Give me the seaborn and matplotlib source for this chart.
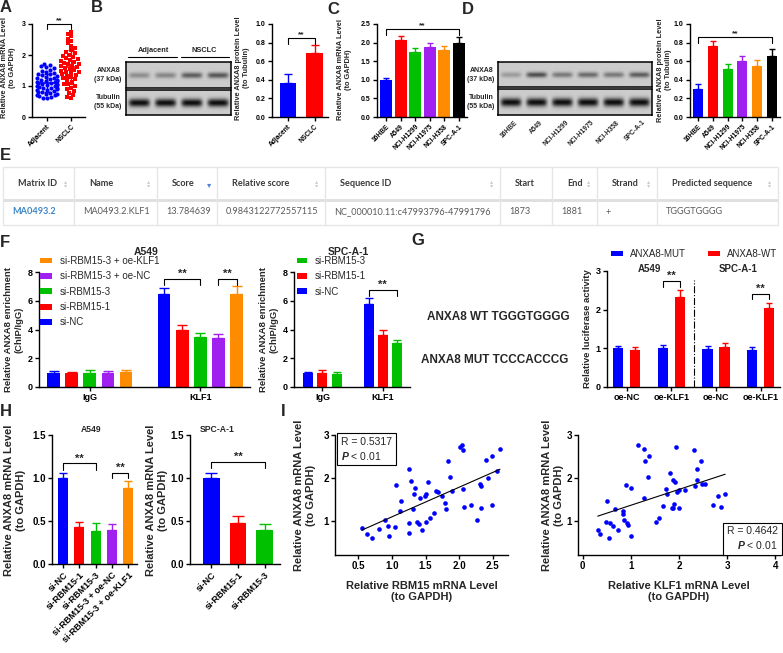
import numpy as np
import pandas as pd
import matplotlib
matplotlib.use("Agg")
import matplotlib.pyplot as plt
import seaborn as sns

BLUE, RED, GREEN, PURPLE, ORANGE, BLACK = "#0000ff", "#ff0000", "#00c000", "#a020f0", "#ff8c00", "#000000"

# ---- A: ANXA8 mRNA in tissues
a_groups = ["Adjacent", "NSCLC"]
adj_mrna = [0.60, 0.62, 0.65, 0.67, 0.70, 0.72, 0.73, 0.75, 0.78, 0.80, 0.82, 0.85, 0.86, 0.88,
            0.90, 0.92, 0.94, 0.95, 0.97, 0.99, 1.00, 1.02, 1.04, 1.05, 1.07, 1.09, 1.10, 1.12,
            1.14, 1.15, 1.17, 1.19, 1.20, 1.22, 1.25, 1.27, 1.30, 1.32, 1.35, 1.38, 1.40, 1.43,
            1.46, 1.50, 1.53, 1.57, 1.60, 1.63, 1.68, 1.72]
nsclc_mrna = [0.60, 0.65, 0.72, 0.78, 0.85, 0.90, 0.95, 1.00, 1.05, 1.08, 1.12, 1.18, 1.22, 1.25,
              1.28, 1.32, 1.35, 1.38, 1.42, 1.45, 1.48, 1.52, 1.55, 1.58, 1.60, 1.63, 1.66, 1.70,
              1.72, 1.75, 1.78, 1.80, 1.83, 1.86, 1.90, 1.93, 1.97, 2.00, 2.05, 2.10, 2.15, 2.22,
              2.30, 2.38, 2.45, 2.52, 2.60, 2.68, 2.75, 1.45]

# ---- B: protein in tissues
b_vals = [0.37, 0.69]
b_err = [0.09, 0.08]
b_band_anxa8 = [0.45, 0.5, 0.8, 0.85]
b_band_tub = [1.0, 1.0, 1.0, 1.0]

# ---- C / D: cell lines
cells = ["16HBE", "A549", "NCI-H1299", "NCI-H1975", "NCI-H358", "SPC-A-1"]
cell_colors = [BLUE, RED, GREEN, PURPLE, ORANGE, BLACK]
c_vals = [1.0, 2.06, 1.75, 1.87, 1.79, 2.0]
c_err = [0.06, 0.12, 0.11, 0.12, 0.11, 0.15]
d_vals = [0.30, 0.76, 0.52, 0.60, 0.55, 0.66]
d_err = [0.06, 0.06, 0.05, 0.06, 0.06, 0.07]
d_band_anxa8 = [0.35, 0.9, 0.6, 0.7, 0.6, 0.8]
d_band_tub = [1.0] * 6

# ---- E: JASPAR table
table_cols = ["Matrix ID", "Name", "Score", "Relative score", "Sequence ID",
              "Start", "End", "Strand", "Predicted sequence"]
table_row = ["MA0493.2", "MA0493.2.KLF1", "13.784639", "0.9843122772557115",
             "NC_000010.11:c47993796-47991796", "1873", "1881", "+", "TGGGTGGGG"]
table_sort = ["both", "both", "down", "both", "both", None, "both", "both", "both"]

# ---- F: ChIP
f_targets = ["IgG", "KLF1"]
f_a549_conds = ["si-NC", "si-RBM15-1", "si-RBM15-3", "si-RBM15-3 + oe-NC", "si-RBM15-3 + oe-KLF1"]
f_a549_igg = [1.0, 0.95, 1.0, 0.95, 1.05]
f_a549_igg_err = [0.1, 0.12, 0.15, 0.18, 0.15]
f_a549_klf1 = [6.5, 4.0, 3.45, 3.4, 6.5]
f_a549_klf1_err = [0.38, 0.3, 0.32, 0.28, 0.5]
f_spc_conds = ["si-NC", "si-RBM15-1", "si-RBM15-3"]
f_spc_igg = [0.95, 1.0, 0.9]
f_spc_igg_err = [0.08, 0.18, 0.12]
f_spc_klf1 = [5.75, 3.65, 3.05]
f_spc_klf1_err = [0.42, 0.3, 0.25]

# ---- G: luciferase
g_cells = ["A549", "A549", "SPC-A-1", "SPC-A-1"]
g_treat = ["oe-NC", "oe-KLF1", "oe-NC", "oe-KLF1"]
g_mut = [1.0, 1.0, 0.98, 0.95]
g_mut_err = [0.07, 0.09, 0.09, 0.09]
g_wt = [0.95, 2.32, 1.03, 2.05]
g_wt_err = [0.09, 0.2, 0.12, 0.12]

# ---- H: qPCR
h_a549 = [1.0, 0.43, 0.38, 0.40, 0.88]
h_a549_err = [0.06, 0.06, 0.10, 0.07, 0.08]
h_spc = [1.0, 0.48, 0.40]
h_spc_err = [0.06, 0.08, 0.06]

# ---- I: correlations
i_rbm15 = [0.89, 0.94, 1.06, 1.12, 1.14, 1.26, 1.25, 1.29, 1.31, 1.33, 1.34, 1.38, 1.40, 1.42,
           1.49, 1.50, 1.50, 1.54, 1.57, 1.63, 1.65, 1.68, 1.74, 1.79, 1.80, 1.83, 1.87, 1.90,
           2.01, 2.04, 2.06, 2.06, 2.07, 2.18, 2.27, 2.31, 2.33, 2.33, 2.40, 2.43, 2.49, 2.49,
           2.56, 2.61, 0.55, 0.62, 0.70, 0.80, 0.95, 1.05, 1.25, 1.45]
i_anxa8_a = [1.01, 0.87, 1.84, 1.23, 1.45, 0.95, 2.21, 1.93, 1.27, 1.63, 1.76, 0.96, 0.92, 1.53,
             1.57, 1.63, 0.98, 1.90, 1.06, 1.19, 1.70, 1.67, 1.57, 1.41, 1.27, 2.40, 2.03, 1.70,
             2.71, 2.77, 2.65, 1.75, 1.33, 1.36, 1.01, 1.86, 1.81, 1.30, 2.42, 1.99, 2.52, 1.36,
             2.15, 2.67, 0.82, 0.70, 0.60, 0.80, 0.65, 0.85, 0.72, 0.78]
i_klf1 = [0.51, 0.48, 0.56, 0.62, 0.67, 0.74, 0.84, 0.84, 0.85, 0.90, 0.92, 0.94, 1.01, 1.15,
          1.27, 1.29, 1.27, 1.35, 1.38, 1.52, 1.59, 1.67, 1.74, 1.76, 1.81, 1.85, 1.87, 1.88,
          1.90, 1.92, 1.94, 1.95, 1.99, 2.01, 2.13, 2.31, 2.33, 2.37, 2.37, 2.45, 2.47, 2.54,
          2.70, 2.82, 2.87, 2.96, 0.31, 0.35, 0.55, 1.00]
i_anxa8_b = [1.45, 0.98, 0.95, 0.87, 1.27, 0.79, 1.22, 1.16, 1.01, 1.84, 0.95, 0.91, 1.76, 2.77,
             2.67, 2.40, 1.53, 2.02, 2.51, 0.98, 1.06, 1.35, 1.74, 1.63, 2.12, 1.30, 1.94, 1.30,
             1.40, 1.91, 2.71, 1.67, 1.71, 1.30, 1.71, 2.64, 1.81, 2.20, 1.95, 2.40, 1.85, 1.85,
             1.36, 1.57, 1.32, 1.63, 0.79, 0.70, 0.60, 0.65]

# ---------------------------------------------------------------
W, H = 783, 653
sns.set_style("ticks")
plt.rcParams.update({
    "font.family": ["Liberation Sans", "DejaVu Sans"],
    "font.weight": "bold",
    "axes.labelweight": "bold",
    "axes.edgecolor": "black",
    "axes.linewidth": 1.0,
    "xtick.color": "black", "ytick.color": "black",
    "xtick.major.width": 1.0, "ytick.major.width": 1.0,
    "xtick.major.size": 3, "ytick.major.size": 3,
    "mathtext.fontset": "custom",
    "mathtext.rm": "Liberation Sans",
    "mathtext.it": "Liberation Sans:italic",
})

fig = plt.figure(figsize=(W / 100, H / 100), dpi=100)


def add_ax(x0, y0, x1, y1):
    return fig.add_axes([x0 / W, 1 - y1 / H, (x1 - x0) / W, (y1 - y0) / H])


def ftext(x, y, s, **kw):
    fig.text(x / W, 1 - y / H, s, **kw)


def gp_axes(ax, ylim, yticks, fmt, fs, xlim=None):
    sns.despine(ax=ax)
    ax.set_ylim(*ylim)
    ax.set_yticks(yticks)
    ax.set_yticklabels([fmt.format(t) for t in yticks])
    if xlim is not None:
        ax.set_xlim(*xlim)
    ax.tick_params(labelsize=fs, pad=1.5)
    ax.set_xlabel("")
    ax.set_ylabel("")


def up_err(ax, x, y, e, c, cap):
    ax.errorbar(x, y, yerr=[[0], [e]], fmt="none", ecolor=c, elinewidth=1, capsize=cap, capthick=1)


def simple_bars(ax, labels, vals, errs, colors, width, cap):
    df = pd.DataFrame({"label": labels, "value": vals})
    sns.barplot(data=df, x="label", y="value", hue="label", palette=colors, width=width,
                saturation=1, errorbar=None, legend=False, linewidth=0, ax=ax)
    for i, (v, e, c) in enumerate(zip(vals, errs, colors)):
        up_err(ax, i, v, e, c, cap)


def grouped_bars(ax, cats, hues, vals, errs, colors, width, gap, cap):
    rows = [(c, h, vals[j][i]) for j, h in enumerate(hues) for i, c in enumerate(cats)]
    df = pd.DataFrame(rows, columns=["cat", "hue", "value"])
    sns.barplot(data=df, x="cat", y="value", hue="hue", order=cats, hue_order=hues,
                palette=colors, width=width, gap=gap, saturation=1, errorbar=None,
                linewidth=0, ax=ax)
    conts = list(ax.containers)
    centers = []
    for j, cont in enumerate(conts):
        cj = []
        for i, bar in enumerate(cont):
            xc = bar.get_x() + bar.get_width() / 2
            cj.append(xc)
            up_err(ax, xc, vals[j][i], errs[j][i], colors[j], cap)
        centers.append(cj)
    return centers


def bracket(ax, x1, x2, y, drop, fs=7):
    ax.plot([x1, x1, x2, x2], [y - drop, y, y, y - drop], color="black", lw=0.8, clip_on=False)
    ax.text((x1 + x2) / 2, y, "**", ha="center", va="bottom", fontsize=fs, clip_on=False)


def blot(ax, strengths, band_h, depth):
    n = len(strengths)
    h, w = 40, 60 * n
    yy, xx = np.mgrid[0:h, 0:w]
    img = np.full((h, w), 0.80)
    for i, s in enumerate(strengths):
        xc = (i + 0.5) * 60
        lane = np.exp(-(((xx - xc) / 24.0) ** 6))
        band = np.exp(-(((yy - h / 2) / (band_h * h / 2)) ** 2))
        img = img - depth * s * lane * band
    ax.imshow(img, cmap="gray", vmin=0, vmax=1, aspect="auto", interpolation="bilinear")
    ax.set_xticks([])
    ax.set_yticks([])
    for sp in ax.spines.values():
        sp.set_visible(True)
        sp.set_linewidth(1.1)


def panel_letter(x, y, s):
    ftext(x, y, s, fontsize=12, fontweight="bold", va="center", ha="left")


# ---------------- A
ax = add_ax(32, 24, 85, 117)
df_a = pd.DataFrame({"group": ["Adjacent"] * len(adj_mrna) + ["NSCLC"] * len(nsclc_mrna),
                     "value": adj_mrna + nsclc_mrna})
sns.swarmplot(data=df_a[df_a.group == "Adjacent"], x="group", y="value", order=a_groups,
              color=BLUE, size=3, marker="o", ax=ax, warn_thresh=1)
sns.swarmplot(data=df_a[df_a.group == "NSCLC"], x="group", y="value", order=a_groups,
              color=RED, size=3, marker="s", ax=ax, warn_thresh=1)
for i, (vals, c) in enumerate([(adj_mrna, BLUE), (nsclc_mrna, RED)]):
    m, sd = np.mean(vals), np.std(vals)
    ax.errorbar(i, m, yerr=sd, fmt="none", ecolor=c, elinewidth=1, capsize=2.5)
    ax.hlines(m, i - 0.3, i + 0.3, color=c, lw=1.2)
gp_axes(ax, (0, 3), [0, 1, 2, 3], "{:.0f}", 5, xlim=(-0.62, 1.58))
ax.set_xticks([0, 1])
ax.set_xticklabels(a_groups, rotation=45, ha="right", rotation_mode="anchor", fontsize=4.8)
bracket(ax, 0, 1, 3.0, 0.17, fs=6)
ftext(9, 68, "Relative ANXA8 mRNA Level\n(to GAPDH)", rotation=90, ha="center", va="center",
      fontsize=5.3, linespacing=1.2)
panel_letter(0, 8, "A")

# ---------------- B
panel_letter(91, 8, "B")
blot(add_ax(126, 62, 231, 88), b_band_anxa8, 0.22, 0.55)
blot(add_ax(126, 90, 231, 115), b_band_tub, 0.32, 0.75)
ftext(121, 75, "ANXA8\n(37 kDa)", ha="right", va="center", fontsize=5, linespacing=1.5)
ftext(121, 102, "Tubulin\n(55 kDa)", ha="right", va="center", fontsize=5, linespacing=1.5)
for xc, x0, x1, lab in [(153, 128, 177, "Adjacent"), (204, 181, 229, "NSCLC")]:
    ftext(xc, 51, lab, ha="center", va="center", fontsize=5.3)
    fig.add_artist(plt.Line2D([x0 / W, x1 / W], [1 - 57 / H, 1 - 57 / H], color="black", lw=0.8))
ax = add_ax(272, 24, 328, 117)
simple_bars(ax, a_groups, b_vals, b_err, [BLUE, RED], 0.62, 3)
gp_axes(ax, (0, 1.0), [0, 0.2, 0.4, 0.6, 0.8, 1.0], "{:.1f}", 5, xlim=(-0.6, 1.5))
ax.set_xticks([0, 1])
ax.set_xticklabels(a_groups, rotation=45, ha="right", rotation_mode="anchor", fontsize=4.8)
bracket(ax, 0, 1, 0.85, 0.07, fs=6)
ftext(243, 68, "Relative ANXA8 protein Level\n(to Tubulin)", rotation=90, ha="center",
      va="center", fontsize=5.3, linespacing=1.2)

# ---------------- C
panel_letter(327, 10, "C")
ax = add_ax(377, 24, 467, 117)
simple_bars(ax, cells, c_vals, c_err, cell_colors, 0.83, 2.2)
gp_axes(ax, (0, 2.5), [0, 0.5, 1.0, 1.5, 2.0, 2.5], "{:.1f}", 5, xlim=(-0.62, 5.55))
ax.set_xticks(range(6))
ax.set_xticklabels(cells, rotation=45, ha="right", rotation_mode="anchor", fontsize=4.8)
bracket(ax, 0, 5, 2.37, 0.17, fs=6)
ftext(345, 70, "Relative ANXA8 mRNA Level\n(to GAPDH)", rotation=90, ha="center", va="center",
      fontsize=5.3, linespacing=1.2)

# ---------------- D
panel_letter(462, 10, "D")
blot(add_ax(498, 62, 652, 87), d_band_anxa8, 0.22, 0.55)
blot(add_ax(498, 89, 652, 115), d_band_tub, 0.32, 0.75)
ftext(494, 75, "ANXA8\n(37 kDa)", ha="right", va="center", fontsize=5, linespacing=1.5)
ftext(494, 102, "Tubulin\n(55 kDa)", ha="right", va="center", fontsize=5, linespacing=1.5)
for i, lab in enumerate(cells):
    xc = 498 + (i + 0.5) * (652 - 498) / len(cells)
    ftext(xc + 3, 119, lab, rotation=45, ha="right", va="top", rotation_mode="anchor", fontsize=4.8)
ax = add_ax(690, 24, 780, 117)
simple_bars(ax, cells, d_vals, d_err, cell_colors, 0.68, 2)
gp_axes(ax, (0, 1.0), [0, 0.2, 0.4, 0.6, 0.8, 1.0], "{:.1f}", 5, xlim=(-0.55, 5.55))
ax.set_xticks(range(6))
ax.set_xticklabels(cells, rotation=45, ha="right", rotation_mode="anchor", fontsize=4.8)
bracket(ax, 0, 5, 0.86, 0.06, fs=6)
ftext(665, 70, "Relative ANXA8 protein Level\n(to Tubulin)", rotation=90, ha="center",
      va="center", fontsize=5.3, linespacing=1.2)

# ---------------- E
panel_letter(0, 156, "E")
tab = add_ax(0, 160, 783, 230)
tab.set_xlim(0, W)
tab.set_ylim(230, 160)
tab.axis("off")
col_edges = [3, 74, 157, 217, 325, 500, 552, 597, 657, 778]
tab.hlines([167, 225], 3, 778, color="#e6e6e6", lw=1)
tab.hlines(199.5, 3, 778, color="#dedede", lw=2)
tab.vlines(col_edges, 167, 225, color="#e6e6e6", lw=1)
for j, (name, val, srt) in enumerate(zip(table_cols, table_row, table_sort)):
    x0, x1 = col_edges[j], col_edges[j + 1]
    tab.text(x0 + 15, 183, name, fontfamily="Lato", fontsize=6.6, fontweight="bold",
             color="#3a3a3a", va="center")
    if srt == "both":
        tab.text(x1 - 8, 181.5, "\u25b4", fontfamily="DejaVu Sans", fontsize=4.5, color="#cccccc",
                 ha="center", va="center")
        tab.text(x1 - 8, 185.5, "\u25be", fontfamily="DejaVu Sans", fontsize=4.5, color="#cccccc",
                 ha="center", va="center")
    elif srt == "down":
        tab.text(x1 - 8, 185, "\u25be", fontfamily="DejaVu Sans", fontsize=6, color="#4f7fd8",
                 ha="center", va="center")
    tab.text(x0 + 9, 212, val, fontfamily="Lato", fontsize=6.6,
             fontweight="bold" if j == 0 else "normal",
             color="#3d85c6" if j == 0 else "#5a5a5a", va="center")

# ---------------- F
panel_letter(0, 242, "F")
ax = add_ax(39, 272, 250, 387)
f_cols5 = [BLUE, RED, GREEN, PURPLE, ORANGE]
cen = grouped_bars(ax, f_targets, f_a549_conds,
                   [list(p) for p in zip(f_a549_igg, f_a549_klf1)],
                   [list(p) for p in zip(f_a549_igg_err, f_a549_klf1_err)],
                   f_cols5, 0.82, 0.3, 3.5)
gp_axes(ax, (0, 8), [0, 2, 4, 6, 8], "{:.0f}", 6.5, xlim=(-0.46, 1.45))
ax.tick_params(axis="x", labelsize=6.5)
bracket(ax, cen[0][1], cen[2][1], 7.5, 0.4, fs=8)
bracket(ax, cen[3][1], cen[4][1], 7.5, 0.4, fs=8)
hnd, lab = ax.get_legend_handles_labels()
ax.legend(hnd[::-1], lab[::-1], loc="upper left", bbox_to_anchor=(40 / W, 1 - 256 / H),
          bbox_transform=fig.transFigure, frameon=False, prop={"size": 7, "weight": "normal"},
          handlelength=1.25, handleheight=0.55, handletextpad=0.8, labelspacing=0.55,
          borderaxespad=0, borderpad=0)
ftext(146, 252, "A549", ha="center", va="center", fontsize=7.5)
ftext(14, 330, "Relative ANXA8 enrichment\n(ChIP/IgG)", rotation=90, ha="center", va="center",
      fontsize=6.8, linespacing=1.2)

ax = add_ax(294, 272, 410, 387)
cen = grouped_bars(ax, f_targets, f_spc_conds,
                   [list(p) for p in zip(f_spc_igg, f_spc_klf1)],
                   [list(p) for p in zip(f_spc_igg_err, f_spc_klf1_err)],
                   [BLUE, RED, GREEN], 0.71, 0.3, 3)
gp_axes(ax, (0, 8), [0, 2, 4, 6, 8], "{:.0f}", 6.5, xlim=(-0.47, 1.45))
ax.tick_params(axis="x", labelsize=6.5)
bracket(ax, cen[0][1], cen[2][1], 6.75, 0.42, fs=8)
hnd, lab = ax.get_legend_handles_labels()
ax.legend(hnd[::-1], lab[::-1], loc="upper left", bbox_to_anchor=(297 / W, 1 - 256 / H),
          bbox_transform=fig.transFigure, frameon=False, prop={"size": 7, "weight": "normal"},
          handlelength=1.05, handleheight=0.55, handletextpad=0.8, labelspacing=0.55,
          borderaxespad=0, borderpad=0)
ftext(348, 252, "SPC-A-1", ha="center", va="center", fontsize=7.5)
ftext(269, 330, "Relative ANXA8 enrichment\n(ChIP/IgG)", rotation=90, ha="center", va="center",
      fontsize=6.8, linespacing=1.2)

# ---------------- G
panel_letter(411, 240, "G")
ftext(498, 317, "ANXA8 WT TGGGTGGGG", ha="center", va="center", fontsize=8.5)
ftext(495, 360, "ANXA8 MUT TCCCACCCG", ha="center", va="center", fontsize=8.5)
ax = add_ax(607, 271, 780, 387)
g_keys = [c + " " + t for c, t in zip(g_cells, g_treat)]
cen = grouped_bars(ax, g_keys, ["ANXA8-MUT", "ANXA8-WT"], [g_mut, g_wt], [g_mut_err, g_wt_err],
                   [BLUE, RED], 0.76, 0.4, 2.5)
gp_axes(ax, (0, 3), [0, 1, 2, 3], "{:.0f}", 6.5, xlim=(-0.44, 3.43))
ax.set_xticks(range(4))
ax.set_xticklabels(g_treat, fontsize=6.5)
ax.axvline(1.5, 0, 2.77 / 3, color="black", lw=0.8, ls="-.")
bracket(ax, cen[0][1], cen[1][1], 2.74, 0.16, fs=8)
bracket(ax, cen[0][3], cen[1][3], 2.40, 0.13, fs=8)
ax.text(0.5, 3.05, "A549", ha="center", va="center", fontsize=7, clip_on=False)
ax.text(2.5, 3.05, "SPC-A-1", ha="center", va="center", fontsize=7, clip_on=False)
hnd, lab = ax.get_legend_handles_labels()
ax.legend(hnd, lab, loc="upper left", bbox_to_anchor=(611 / W, 1 - 249 / H), ncol=2,
          bbox_transform=fig.transFigure, frameon=False, prop={"size": 7, "weight": "normal"},
          handlelength=1.25, handleheight=0.55, handletextpad=0.7, columnspacing=2.3,
          borderaxespad=0, borderpad=0)
ftext(588, 329, "Relative luciferase activity", rotation=90, ha="center", va="center", fontsize=6.8)

# ---------------- H
panel_letter(0, 412, "H")
ax = add_ax(52, 435, 137, 564)
simple_bars(ax, f_a549_conds, h_a549, h_a549_err, f_cols5, 0.62, 3)
gp_axes(ax, (0, 1.5), [0, 0.5, 1.0, 1.5], "{:.1f}", 7, xlim=(-0.68, 4.55))
ax.set_xticks(range(5))
ax.set_xticklabels(f_a549_conds, rotation=45, ha="right", rotation_mode="anchor", fontsize=6.5)
bracket(ax, 0, 2, 1.17, 0.08, fs=8)
bracket(ax, 3, 4, 1.06, 0.06, fs=8)
ftext(91, 430, "A549", ha="center", va="center", fontsize=6.2)
ftext(15, 500, "Relative ANXA8 mRNA Level\n(to GAPDH)", rotation=90, ha="center", va="center",
      fontsize=8, linespacing=1.15)

ax = add_ax(190, 435, 280, 564)
simple_bars(ax, f_spc_conds, h_spc, h_spc_err, [BLUE, RED, GREEN], 0.63, 4)
gp_axes(ax, (0, 1.5), [0, 0.5, 1.0, 1.5], "{:.1f}", 7, xlim=(-0.8, 2.57))
ax.set_xticks(range(3))
ax.set_xticklabels(f_spc_conds, rotation=45, ha="right", rotation_mode="anchor", fontsize=6.5)
bracket(ax, 0, 2, 1.19, 0.07, fs=8)
ftext(217, 430, "SPC-A-1", ha="center", va="center", fontsize=6.2)
ftext(157, 500, "Relative ANXA8 mRNA Level\n(to GAPDH)", rotation=90, ha="center", va="center",
      fontsize=8, linespacing=1.15)

# ---------------- I
panel_letter(281, 412, "I")


def corr_panel(box, xs, ys, xlim, xticks, xfmt, xlabel, ylab_x, r_text, r_pos, r_align):
    ax = add_ax(*box)
    sns.scatterplot(x=xs, y=ys, color=BLUE, s=11, linewidth=0, ax=ax)
    sns.regplot(x=np.array(xs), y=np.array(ys), scatter=False, ci=None, color="black",
                line_kws={"lw": 0.8}, ax=ax)
    gp_axes(ax, (0.2, 3.0), [1, 2, 3], "{:.0f}", 7, xlim=xlim)
    ax.set_xticks(xticks)
    ax.set_xticklabels([xfmt.format(t) for t in xticks])
    ax.set_xlabel(xlabel, fontsize=8, linespacing=1.15, labelpad=7)
    ax.text(r_pos[0], r_pos[1], r_text, transform=ax.transAxes, fontsize=7.5, fontweight="normal",
            ha=r_align[0], va=r_align[1], linespacing=1.3,
            bbox=dict(boxstyle="square,pad=0.35", fc="white", ec="black", lw=0.8))
    yc = (box[1] + box[3]) / 2
    ftext(ylab_x, yc, "Relative ANXA8 mRNA Level\n(to GAPDH)", rotation=90, ha="center",
          va="center", fontsize=8, linespacing=1.15)


corr_panel((335, 435, 508, 555), i_rbm15, i_anxa8_a, (0.15, 2.73), [0.5, 1.0, 1.5, 2.0, 2.5], "{:.1f}",
           "Relative RBM15 mRNA Level\n(to GAPDH)", 305, "R = 0.5317\n$\\mathit{P}$ < 0.01",
           (0.035, 0.985), ("left", "top"))
corr_panel((578, 435, 780, 555), i_klf1, i_anxa8_b, (-0.1, 4.1), [0, 1, 2, 3, 4], "{:.0f}",
           "Relative KLF1 mRNA Level\n(to GAPDH)", 553, "R = 0.4642\n$\\mathit{P}$ < 0.01",
           (0.99, 0.03), ("right", "bottom"))

fig.savefig("out.png", dpi=100)
